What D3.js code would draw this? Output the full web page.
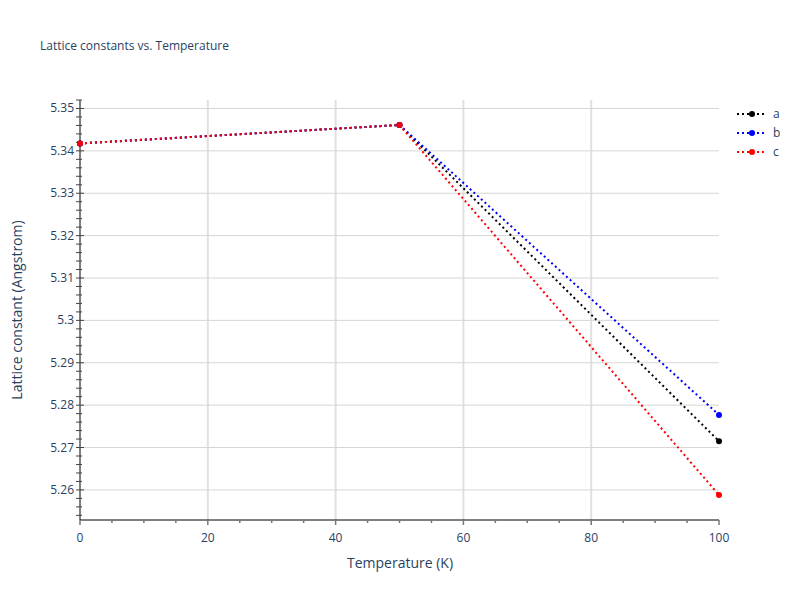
<!DOCTYPE html><html><head><script src="https://cdn.jsdelivr.net/npm/d3@7"></script>
<style>body{margin:0;font-family:"Open Sans",sans-serif}</style></head><body><svg id="c" width="800" height="600"></svg>
<script>
const temps=[0,50,100];
const aVals=[5.34175,5.3461,5.2715];
const bVals=[5.34175,5.3461,5.2777];
const cVals=[5.34175,5.3461,5.2588];
const series=[{name:"a",color:"black",v:aVals},{name:"b",color:"blue",v:bVals},{name:"c",color:"red",v:cVals}];
const yTicks=[5.26,5.27,5.28,5.29,5.3,5.31,5.32,5.33,5.34,5.35];
const xTicks=[0,20,40,60,80,100];
const svg=d3.select("#c");
const L=80,R=719,T=100,B=520;
const x=d3.scaleLinear().domain([0,100]).range([L,R]);
const y=d3.scaleLinear().domain([5.2529,5.3520]).range([B,T]);
const tc="#2a3f5f";
svg.append("rect").attr("width",800).attr("height",600).attr("fill","white");
xTicks.forEach(t=>{if(t>0&&t<100)svg.append("line").attr("x1",x(t)).attr("x2",x(t)).attr("y1",T).attr("y2",B).attr("stroke","#e0e0e0").attr("stroke-width",2);});
yTicks.forEach(t=>svg.append("line").attr("x1",L).attr("x2",R).attr("y1",y(t)).attr("y2",y(t)).attr("stroke","#d6d6d6"));
// axes lines
svg.append("line").attr("x1",L).attr("x2",L).attr("y1",T).attr("y2",B).attr("stroke","black");
svg.append("line").attr("x1",L).attr("x2",R).attr("y1",B).attr("y2",B).attr("stroke","black");
for(let v=0;v<=100;v+=5){svg.append("line").attr("x1",x(v)).attr("x2",x(v)).attr("y1",B).attr("y2",B+(v%20==0?5:3)).attr("stroke","#777").attr("stroke-width",1.5);}
for(let i=0;i<=49;i++){const v=5.254+i*0.002;if(v>5.352)break;svg.append("line").attr("x1",L-4).attr("x2",L+(Math.abs((v*100)%1)<0.05||Math.abs((v*100)%1)>0.95?4:2)).attr("y1",y(v)).attr("y2",y(v)).attr("stroke","#444");}
xTicks.forEach(t=>svg.append("text").attr("x",x(t)).attr("y",B+22).attr("text-anchor","middle").attr("font-size",12).attr("fill",tc).text(t));
yTicks.forEach(t=>svg.append("text").attr("x",L-6).attr("y",y(t)+4).attr("text-anchor","end").attr("font-size",12).attr("fill",tc).text(t));
svg.append("text").attr("x",400).attr("y",568).attr("text-anchor","middle").attr("font-size",14).attr("fill",tc).text("Temperature (K)");
svg.append("text").attr("transform","translate(22,310) rotate(-90)").attr("text-anchor","middle").attr("font-size",14).attr("fill",tc).text("Lattice constant (Angstrom)");
svg.append("text").attr("x",40).attr("y",50).attr("font-size",12).attr("fill",tc).text("Lattice constants vs. Temperature");
const line=d3.line().x((d,i)=>x(temps[i])).y(d=>y(d));
const g=svg.append("g");
series.forEach(s=>{g.append("path").attr("d",line(s.v)).attr("fill","none").attr("stroke",s.color).attr("stroke-width",2).attr("stroke-dasharray","2,3");
s.v.forEach((v,i)=>g.append("circle").attr("cx",x(temps[i])).attr("cy",y(v)).attr("r",3).attr("fill",s.color));});
series.forEach((s,i)=>{const yy=114+i*19;svg.append("line").attr("x1",737).attr("x2",767).attr("y1",yy).attr("y2",yy).attr("stroke",s.color).attr("stroke-width",2).attr("stroke-dasharray","2,3");
svg.append("circle").attr("cx",752).attr("cy",yy).attr("r",3).attr("fill",s.color);
svg.append("text").attr("x",773).attr("y",yy+4).attr("font-size",12).attr("fill",tc).text(s.name);});
</script></body></html>
